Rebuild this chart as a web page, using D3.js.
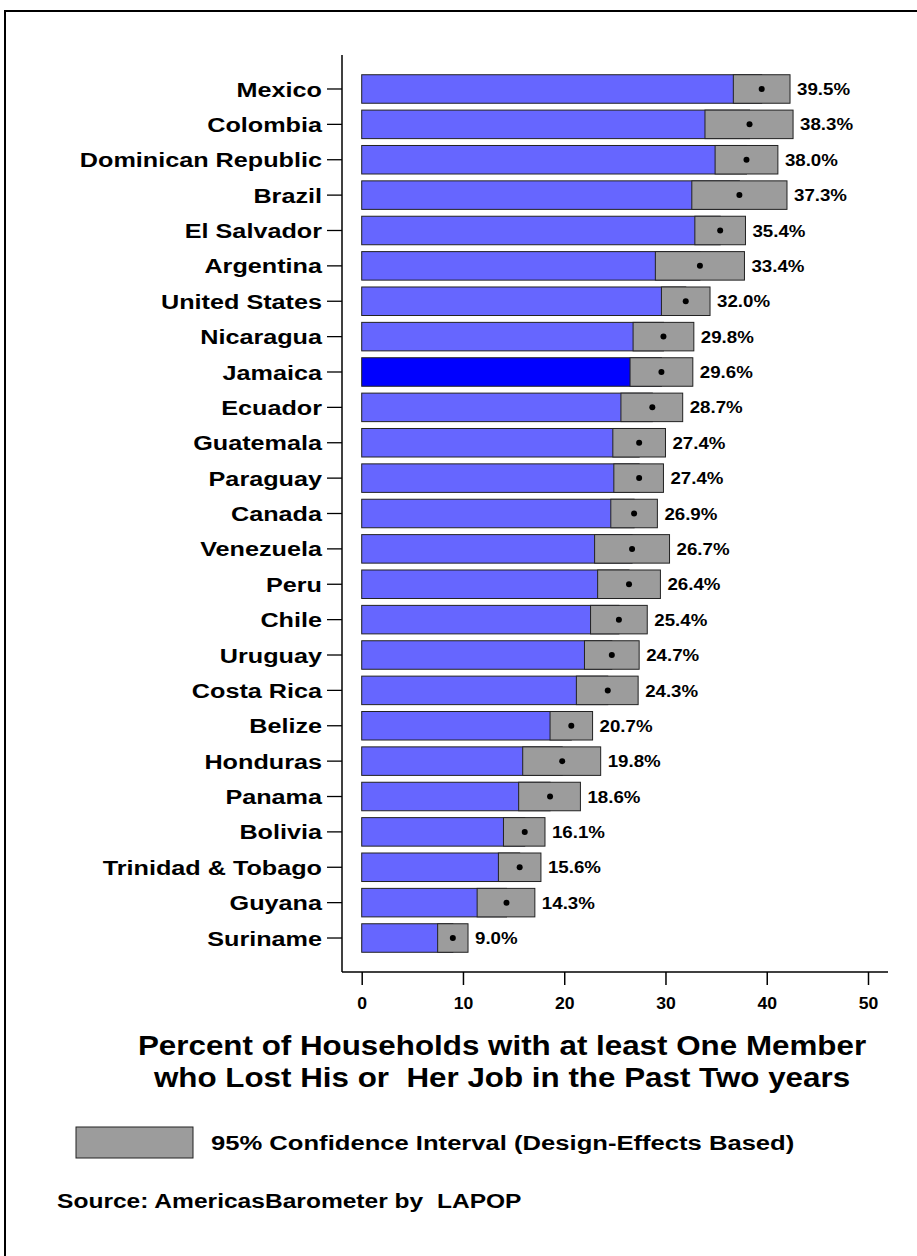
<!DOCTYPE html>
<html lang="en">
<head>
    <meta charset="UTF-8">
    <title>Job loss in the Americas</title>
    <script src="https://d3js.org/d3.v7.min.js"></script>
    <style>
        body {
            margin: 0;
            background: #fff;
        }

        svg text {
            font-family: "Liberation Sans", Arial, sans-serif;
            font-weight: bold;
            fill: #000;
            white-space: pre;
        }
    </style>
</head>
<body>
    <svg id="chart" width="917" height="1256"></svg>
    <script>
        // values
        const countries = ["Mexico", "Colombia", "Dominican Republic", "Brazil", "El Salvador", "Argentina",
            "United States", "Nicaragua", "Jamaica", "Ecuador", "Guatemala", "Paraguay", "Canada", "Venezuela",
            "Peru", "Chile", "Uruguay", "Costa Rica", "Belize", "Honduras", "Panama", "Bolivia",
            "Trinidad & Tobago", "Guyana", "Suriname"];
        const means = [39.5, 38.3, 38.0, 37.3, 35.4, 33.4, 32.0, 29.8, 29.6, 28.7, 27.4, 27.4, 26.9, 26.7,
            26.4, 25.4, 24.7, 24.3, 20.7, 19.8, 18.6, 16.1, 15.6, 14.3, 9.0];
        const ciLow = [36.7, 33.9, 34.9, 32.6, 32.9, 29.0, 29.6, 26.8, 26.5, 25.6, 24.8, 24.9, 24.6, 23.0,
            23.3, 22.6, 22.0, 21.2, 18.6, 15.9, 15.5, 14.0, 13.5, 11.4, 7.5];
        const ciHigh = [42.3, 42.6, 41.1, 42.0, 37.9, 37.8, 34.4, 32.8, 32.7, 31.7, 30.0, 29.8, 29.2, 30.4,
            29.5, 28.2, 27.4, 27.3, 22.8, 23.6, 21.6, 18.1, 17.7, 17.1, 10.5];
        const highlight = "Jamaica";
        const xTicks = [0, 10, 20, 30, 40, 50];
        const titleLines = ["Percent of Households with at least One Member",
            "who Lost His or  Her Job in the Past Two years"];
        const legendLabel = "95% Confidence Interval (Design-Effects Based)";
        const sourceLabel = "Source: AmericasBarometer by  LAPOP";

        const rows = countries.map((c, i) => ({
            country: c, mean: means[i], lo: ciLow[i], hi: ciHigh[i]
        }));

        const svg = d3.select("#chart");
        const axisX = 342;     // vertical axis position
        const axisY = 972;     // horizontal axis position

        const x = d3.scaleLinear().domain([0, 50]).range([361.7, 868]);
        const y = d3.scaleBand().domain(countries).range([71.3, 955.7])
            .paddingInner(0.194).paddingOuter(0.097);

        // the original glyphs are a little wider than Liberation Sans, so stretch them
        function wide(sel, x0, y0, sx) {
            sel.attr("x", null).attr("y", null)
                .attr("transform", `translate(${x0},${y0}) scale(${sx},1)`);
        }

        // outer frame (runs off the right and bottom edges)
        svg.append("rect")
            .attr("x", 5).attr("y", 11)
            .attr("width", 1000).attr("height", 1400)
            .attr("fill", "none").attr("stroke", "#000").attr("stroke-width", 2);

        // bars: mean in blue, CI box in gray laid over it
        const g = svg.append("g");
        g.selectAll(".bar").data(rows).enter().append("rect")
            .attr("class", "bar")
            .attr("x", x(0))
            .attr("y", d => y(d.country))
            .attr("width", d => x(d.mean) - x(0))
            .attr("height", y.bandwidth())
            .attr("fill", d => d.country === highlight ? "#0000ff" : "#6666ff")
            .attr("stroke", "#222").attr("stroke-width", 1);

        g.selectAll(".ci").data(rows).enter().append("rect")
            .attr("class", "ci")
            .attr("x", d => x(d.lo))
            .attr("y", d => y(d.country))
            .attr("width", d => x(d.hi) - x(d.lo))
            .attr("height", y.bandwidth())
            .attr("fill", "#9c9c9c")
            .attr("stroke", "#222").attr("stroke-width", 1);

        g.selectAll(".dot").data(rows).enter().append("circle")
            .attr("cx", d => x(d.mean))
            .attr("cy", d => y(d.country) + y.bandwidth() / 2)
            .attr("r", 3)
            .attr("fill", "#000");

        g.selectAll(".val").data(rows).enter().append("text")
            .attr("dy", "0.36em")
            .attr("font-size", 17)
            .text(d => d.mean.toFixed(1) + "%")
            .each(function (d) {
                wide(d3.select(this), x(d.hi) + 7, y(d.country) + y.bandwidth() / 2, 1.1);
            });

        // y axis
        const yAxis = svg.append("g")
            .attr("transform", `translate(${axisX},0)`)
            .call(d3.axisLeft(y).tickSize(15).tickSizeOuter(0).tickPadding(5));
        yAxis.select(".domain").remove();
        yAxis.selectAll(".tick line").attr("stroke", "#000").attr("stroke-width", 1.3);
        yAxis.selectAll(".tick text")
            .attr("font-size", 21).attr("font-family", null)
            .attr("dy", "0.36em")
            .call(wide, -20, 0, 1.2);
        svg.append("line")
            .attr("x1", axisX).attr("x2", axisX)
            .attr("y1", 55).attr("y2", axisY)
            .attr("stroke", "#000").attr("stroke-width", 1.5);

        // x axis
        const xAxis = svg.append("g")
            .attr("transform", `translate(0,${axisY})`)
            .call(d3.axisBottom(x).tickValues(xTicks).tickSize(13).tickSizeOuter(0).tickPadding(13));
        xAxis.select(".domain").remove();
        xAxis.selectAll(".tick line").attr("stroke", "#000").attr("stroke-width", 1.5);
        xAxis.selectAll(".tick text")
            .attr("font-size", 16).attr("font-family", null)
            .call(wide, 0, 26, 1.1);
        svg.append("line")
            .attr("x1", axisX).attr("x2", 888)
            .attr("y1", axisY).attr("y2", axisY)
            .attr("stroke", "#000").attr("stroke-width", 1.5);

        // title
        svg.selectAll(".title").data(titleLines).enter().append("text")
            .attr("dy", "0.36em")
            .attr("text-anchor", "middle")
            .attr("font-size", 28)
            .text(d => d)
            .each(function (d, i) {
                wide(d3.select(this), 502, 1045 + i * 32, 1.12);
            });

        // legend
        svg.append("rect")
            .attr("x", 76).attr("y", 1127)
            .attr("width", 117).attr("height", 31)
            .attr("fill", "#9c9c9c").attr("stroke", "#222");
        svg.append("text")
            .attr("dy", "0.36em")
            .attr("font-size", 21)
            .text(legendLabel)
            .call(wide, 211, 1142, 1.22);

        // source
        svg.append("text")
            .attr("dy", "0.36em")
            .attr("font-size", 21)
            .text(sourceLabel)
            .call(wide, 57, 1200, 1.17);
    </script>
</body>
</html>
